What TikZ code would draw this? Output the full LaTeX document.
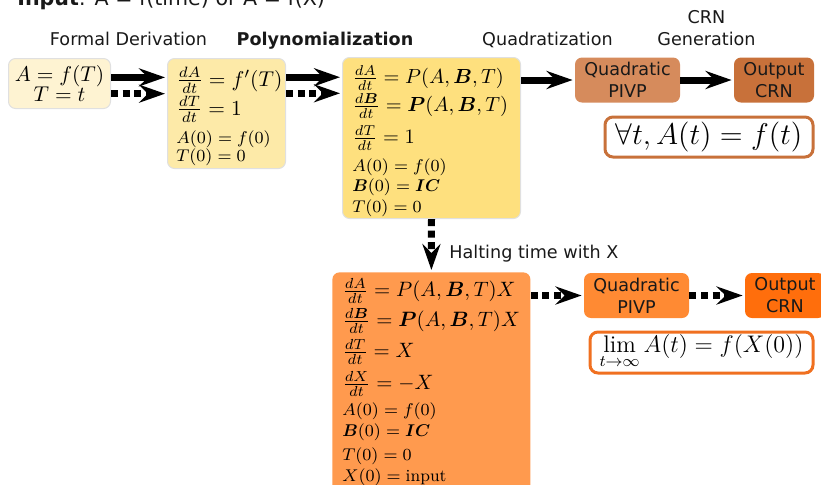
\documentclass[tikz,border=0pt]{standalone}
\usepackage{fix-cm}
\usepackage{amsmath,amssymb}
\usepackage{fontspec}
\newfontfamily\labfont{DejaVu Sans}
\usetikzlibrary{arrows.meta,calc}

\definecolor{cream}{HTML}{FEF3D2}
\definecolor{paleyellow}{HTML}{FDEAA8}
\definecolor{midyellow}{HTML}{FEE07E}
\definecolor{tan}{HTML}{D68B5C}
\definecolor{rust}{HTML}{C8713A}
\definecolor{softorange}{HTML}{FF9A4E}
\definecolor{brightorange}{HTML}{FF8A33}
\definecolor{deeporange}{HTML}{FF6E0C}
\definecolor{limborder}{HTML}{F07020}

% smaller rows (initial conditions)
\newcommand\smallrow[1]{{\fontsize{8.5}{9}\selectfont #1}}
% fixed line pitch, whatever the line contents
\newcommand\tightlines{\lineskiplimit=-100pt\relax}

\begin{document}
\begin{tikzpicture}[x=0.5pt,y=-0.5pt,
  box/.style={rounded corners=3.5pt, inner sep=0pt, anchor=north west},
  faint/.style={draw=black!12, line width=0.5pt},
  eqs/.style={align=left, inner sep=0pt, anchor=north west},
  lab/.style={font=\labfont\fontsize{8.8}{11}\selectfont, text=black!90, inner sep=0pt},
  stage/.style={rounded corners=3.5pt, inner sep=0pt, align=center,
    minimum width=52.5pt, minimum height=22.5pt,
    font=\labfont\fontsize{8.8}{11}\selectfont, text=black!90},
  result/.style={draw, line width=1.5pt, fill=white, rounded corners=4pt, inner sep=0pt},
  flow/.style={line width=3.5pt, shorten >=1pt,
    -{Stealth[length=13pt,width=9pt,inset=4.5pt]}},
  flowdot/.style={flow, dash pattern=on 3.5pt off 2.3pt},
]
\useasboundingbox (0,0) rectangle (821,484);

% heading, partly above the page
\node[anchor=base west, inner sep=0pt, text=black!90,
  font=\labfont\fontsize{10.3}{12}\selectfont] (title) at (17,5)
  {\textbf{Input}: A = f(time) or A = f(X)};

% stage labels
\node[lab, anchor=base] (l1) at (128.5,45) {Formal Derivation};
\node[lab, anchor=base, font=\labfont\bfseries\fontsize{8.8}{11}\selectfont] (l2) at (325,45) {Polynomialization};
\node[lab, anchor=base] (l3) at (547.5,45) {Quadratization};
\node[lab, anchor=north, align=center] (l4) at (706.5,10) {CRN\\Generation};
\node[lab, anchor=base west] (l5) at (449,258) {Halting time with X};

% input function
\node[box, faint, fill=cream, minimum width=51pt, minimum height=25pt, align=center,
  font=\fontsize{10.7}{10}\selectfont] (b1) at (8,58) {$A = f(T)$\\$T = t$};

% formal derivation
\node[box, faint, fill=paleyellow, minimum width=59pt, minimum height=55pt] (b2) at (167,58) {};
\node[eqs, font=\fontsize{10.7}{9}\selectfont\tightlines] (t2) at (176,67)
  {$\frac{dA}{dt} = f'(T)$\\[5.5pt]
   $\frac{dT}{dt} = 1$\\[5.3pt]
   \smallrow{$A(0) = f(0)$}\\
   \smallrow{$T(0) = 0$}};

% polynomialization
\node[box, faint, fill=midyellow, minimum width=89pt, minimum height=80.5pt] (b3) at (342,57) {};
\node[eqs, font=\fontsize{10.2}{10}\selectfont\tightlines] (t3) at (352,65)
  {$\frac{dA}{dt} = P(A,\boldsymbol{B},T)$\\[4.3pt]
   $\frac{d\boldsymbol{B}}{dt} = \boldsymbol{P}(A,\boldsymbol{B},T)$\\[6pt]
   $\frac{dT}{dt} = 1$\\[4pt]
   \smallrow{$A(0) = f(0)$}\\
   \smallrow{$\boldsymbol{B}(0) = \boldsymbol{IC}$}\\[0.5pt]
   \smallrow{$T(0) = 0$}};

% halting-time variant
\node[box, fill=softorange, minimum width=99pt, minimum height=112pt] (b4) at (332,272) {};
\node[eqs, font=\fontsize{10.4}{10.5}\selectfont\tightlines] (t4) at (342,278)
  {$\frac{dA}{dt} = P(A,\boldsymbol{B},T)X$\\[4.5pt]
   $\frac{d\boldsymbol{B}}{dt} = \boldsymbol{P}(A,\boldsymbol{B},T)X$\\[5pt]
   $\frac{dT}{dt} = X$\\[5.5pt]
   $\frac{dX}{dt} = -X$\\[2.3pt]
   \smallrow{$A(0) = f(0)$}\\
   \smallrow{$\boldsymbol{B}(0) = \boldsymbol{IC}$}\\[1.5pt]
   \smallrow{$T(0) = 0$}\\
   \smallrow{$X(0) = \mathrm{input}$}};

% quadratization and CRN generation
\node[stage, fill=tan] (qp) at (627.5,80) {Quadratic\\PIVP};
\node[stage, fill=rust, minimum width=40pt] (oc) at (774,80) {Output\\CRN};
\node[result, draw=rust, minimum width=104pt, minimum height=20pt,
  font=\fontsize{15}{16}\selectfont] (r1) at (709,137) {$\forall t, A(t) = f(t)$};

\node[stage, fill=brightorange] (qpb) at (636.5,295.5) {Quadratic\\PIVP};
\node[stage, fill=deeporange, minimum width=40pt] (ocb) at (785,295.5) {Output\\CRN};
\node[result, draw=limborder, minimum width=111.5pt, minimum height=20.5pt,
  text height=5pt, text depth=5pt,
  font=\fontsize{12}{13}\selectfont] (r2) at (701.5,352.5)
  {$\displaystyle\lim_{t\to\infty} A(t) = f(X(0))$};

% connectors
\coordinate (a1) at ($(b1.north east)!0.38!(b1.south east)$);
\coordinate (d1) at ($(b1.north east)!0.70!(b1.south east)$);
\coordinate (a2) at ($(b2.north east)!0.173!(b2.south east)$);
\coordinate (d2) at ($(b2.north east)!0.318!(b2.south east)$);
\draw[flow] (a1) -- (a1 -| b2.west);
\draw[flowdot] (d1) -- (d1 -| b2.west);
\draw[flow] (a2) -- (a2 -| b3.west);
\draw[flowdot] (d2) -- (d2 -| b3.west);
\draw[flow] (b3.east |- qp.west) -- (qp.west);
\draw[flow] (qp.east) -- (oc.west);
\draw[flowdot] (b3.south) -- (b4.north);
\draw[flowdot] (b4.east |- qpb.west) -- (qpb.west);
\draw[flowdot] (qpb.east) -- (ocb.west);
\end{tikzpicture}
\end{document}
